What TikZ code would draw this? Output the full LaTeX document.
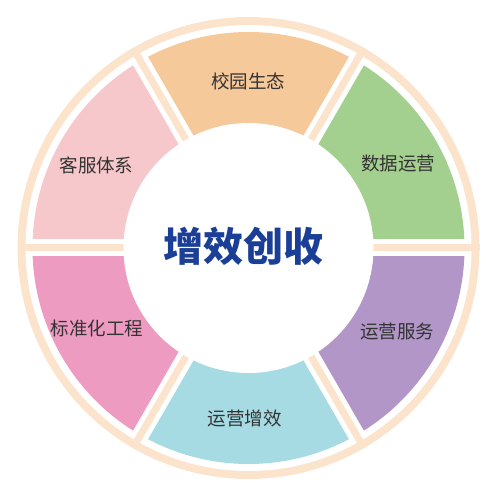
\documentclass[tikz,border=0pt]{standalone}
\usepackage{fontspec}
\newfontfamily\cjk{Noto Sans CJK SC}
\usetikzlibrary{calc}
\definecolor{peach}{HTML}{FCE4CC}
\definecolor{segorange}{HTML}{F6C99A}
\definecolor{seggreen}{HTML}{A3D08E}
\definecolor{segpurple}{HTML}{B196C7}
\definecolor{segblue}{HTML}{A6DBE3}
\definecolor{segmagenta}{HTML}{EE9BC1}
\definecolor{segpink}{HTML}{F6C7CB}
\definecolor{titleblue}{HTML}{1B3F96}
\definecolor{labelgray}{HTML}{333333}
\tikzset{
  seglabel/.style={font=\cjk\fontsize{18.5}{20}\selectfont, text=labelgray, inner sep=0pt},
  titlelabel/.style={font=\cjk\bfseries\fontsize{40}{44}\selectfont, text=titleblue, inner sep=0pt},
  gapwhite/.style={white, line width=17pt},
  gappeach/.style={peach, line width=7pt}
}
\begin{document}
\begin{tikzpicture}[x=1pt,y=1pt]
\useasboundingbox (0,0) rectangle (500,501);
\coordinate (c) at (248.5,253);
% outer peach disk and white ring
\fill[peach] (c) circle (231);
\fill[white] (c) circle (223);
% coloured sectors
\foreach \a/\col in {60/segorange,0/seggreen,-60/segpurple,240/segblue,180/segmagenta,120/segpink}{
  \fill[\col] (c) -- ++(\a:216) arc[start angle=\a, end angle=\a+60, radius=216] -- cycle;
}
% gaps
\foreach \a in {0,60,120,180,240,300}{
  \draw[gapwhite] (c) -- ($(c)+(\a:222)$);
}
\foreach \a in {0,60,120,180,240,300}{
  \draw[gappeach] (c) -- ($(c)+(\a:231)$);
}
% inner white circle
\fill[white] (c) circle (125);
% labels
\node[seglabel] (s1) at (248,420) {校园生态};
\node[seglabel] (s2) at (398,337) {数据运营};
\node[seglabel] (s3) at (397,170) {运营服务};
\node[seglabel] (s4) at (244.5,82.5) {运营增效};
\node[seglabel] (s5) at (97,173) {标准化工程};
\node[seglabel] (s6) at (96.5,336) {客服体系};
\node[titlelabel] (t) at (243,255) {增效创收};
\end{tikzpicture}
\end{document}
